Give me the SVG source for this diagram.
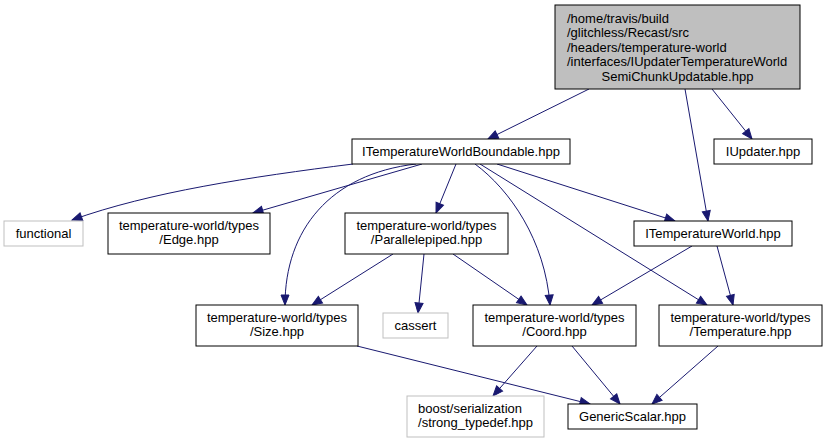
<svg xmlns="http://www.w3.org/2000/svg" width="828" height="443" viewBox="0 0 828 443">
<style>
text{font-family:"Liberation Sans",Arial,sans-serif;font-size:13px;fill:#000}
.c{text-anchor:middle}
.n{fill:#fff;stroke:#000;stroke-width:1}
.x{fill:#fff;stroke:#bfbfbf;stroke-width:1}
.r{fill:#bfbfbf;stroke:#000;stroke-width:1}
.e{fill:none;stroke:#191970;stroke-width:1;marker-end:url(#a)}
</style>
<defs>
<marker id="a" markerWidth="12" markerHeight="10" refX="10" refY="4.5" orient="auto" markerUnits="userSpaceOnUse" overflow="visible">
<path d="M0,0.5 L10,4.5 L0,8.5 z" fill="#191970" stroke="#191970" stroke-width="1"/>
</marker>
</defs>
<rect width="828" height="443" fill="#fff"/>
<g id="connectors">
<path class="e" d="M589,89 L488,139"/>
<path class="e" d="M685,89 L708,221"/>
<path class="e" d="M712,89 L752,139"/>
<path class="e" d="M353,164 C250,177 150,192 72,220"/>
<path class="e" d="M422,164 L253,213"/>
<path class="e" d="M456,164 L436,213"/>
<path class="e" d="M416,164 C330,174 285,230 285,305"/>
<path class="e" d="M475,164 C510,190 545,240 550,305"/>
<path class="e" d="M497,164 L675,221"/>
<path class="e" d="M480,164 L707,305"/>
<path class="e" d="M393,254 L312,305"/>
<path class="e" d="M424,254 L418,313"/>
<path class="e" d="M453,254 L527,305"/>
<path class="e" d="M692,246 L592,305"/>
<path class="e" d="M717,246 L733,305"/>
<path class="e" d="M357,346 L590,404"/>
<path class="e" d="M537,346 L493,396"/>
<path class="e" d="M572,346 L620,404"/>
<path class="e" d="M718,346 L652,404"/>
</g>
<g id="root">
<rect class="r" x="555" y="5" width="245" height="84"/>
<text x="567" y="22.5">/home/travis/build</text>
<text x="567" y="37">/glitchless/Recast/src</text>
<text x="567" y="51.5">/headers/temperature-world</text>
<text x="567" y="66">/interfaces/IUpdaterTemperatureWorld</text>
<text class="c" x="677.5" y="80.5">SemiChunkUpdatable.hpp</text>
</g>
<g id="boundable">
<rect class="n" x="352" y="139" width="218" height="25"/>
<text class="c" x="461" y="156">ITemperatureWorldBoundable.hpp</text>
</g>
<g id="iupdater">
<rect class="n" x="714" y="139" width="98" height="25"/>
<text class="c" x="763" y="156">IUpdater.hpp</text>
</g>
<g id="functional">
<rect class="x" x="4" y="221" width="79" height="25"/>
<text class="c" x="43.5" y="238">functional</text>
</g>
<g id="edge">
<rect class="n" x="108" y="213" width="162" height="41"/>
<text class="c" x="189" y="229.5">temperature-world/types</text>
<text class="c" x="189" y="244">/Edge.hpp</text>
</g>
<g id="parallelepiped">
<rect class="n" x="345" y="213" width="163" height="41"/>
<text class="c" x="426.5" y="229.5">temperature-world/types</text>
<text class="c" x="426.5" y="244">/Parallelepiped.hpp</text>
</g>
<g id="itemperatureworld">
<rect class="n" x="634" y="221" width="158" height="25"/>
<text class="c" x="713" y="238">ITemperatureWorld.hpp</text>
</g>
<g id="size">
<rect class="n" x="196" y="305" width="162" height="41"/>
<text class="c" x="277" y="321.5">temperature-world/types</text>
<text class="c" x="277" y="336">/Size.hpp</text>
</g>
<g id="cassert">
<rect class="x" x="383" y="313" width="65" height="25"/>
<text class="c" x="415.5" y="330">cassert</text>
</g>
<g id="coord">
<rect class="n" x="473" y="305" width="163" height="41"/>
<text class="c" x="554.5" y="321.5">temperature-world/types</text>
<text class="c" x="554.5" y="336">/Coord.hpp</text>
</g>
<g id="temperature">
<rect class="n" x="659" y="305" width="163" height="41"/>
<text class="c" x="740.5" y="321.5">temperature-world/types</text>
<text class="c" x="740.5" y="336">/Temperature.hpp</text>
</g>
<g id="boost">
<rect class="x" x="407" y="396" width="137" height="41"/>
<text x="418" y="412.5">boost/serialization</text>
<text class="c" x="475.5" y="427">/strong_typedef.hpp</text>
</g>
<g id="genericscalar">
<rect class="n" x="568" y="404" width="129" height="25"/>
<text class="c" x="632.5" y="421">GenericScalar.hpp</text>
</g>
</svg>
